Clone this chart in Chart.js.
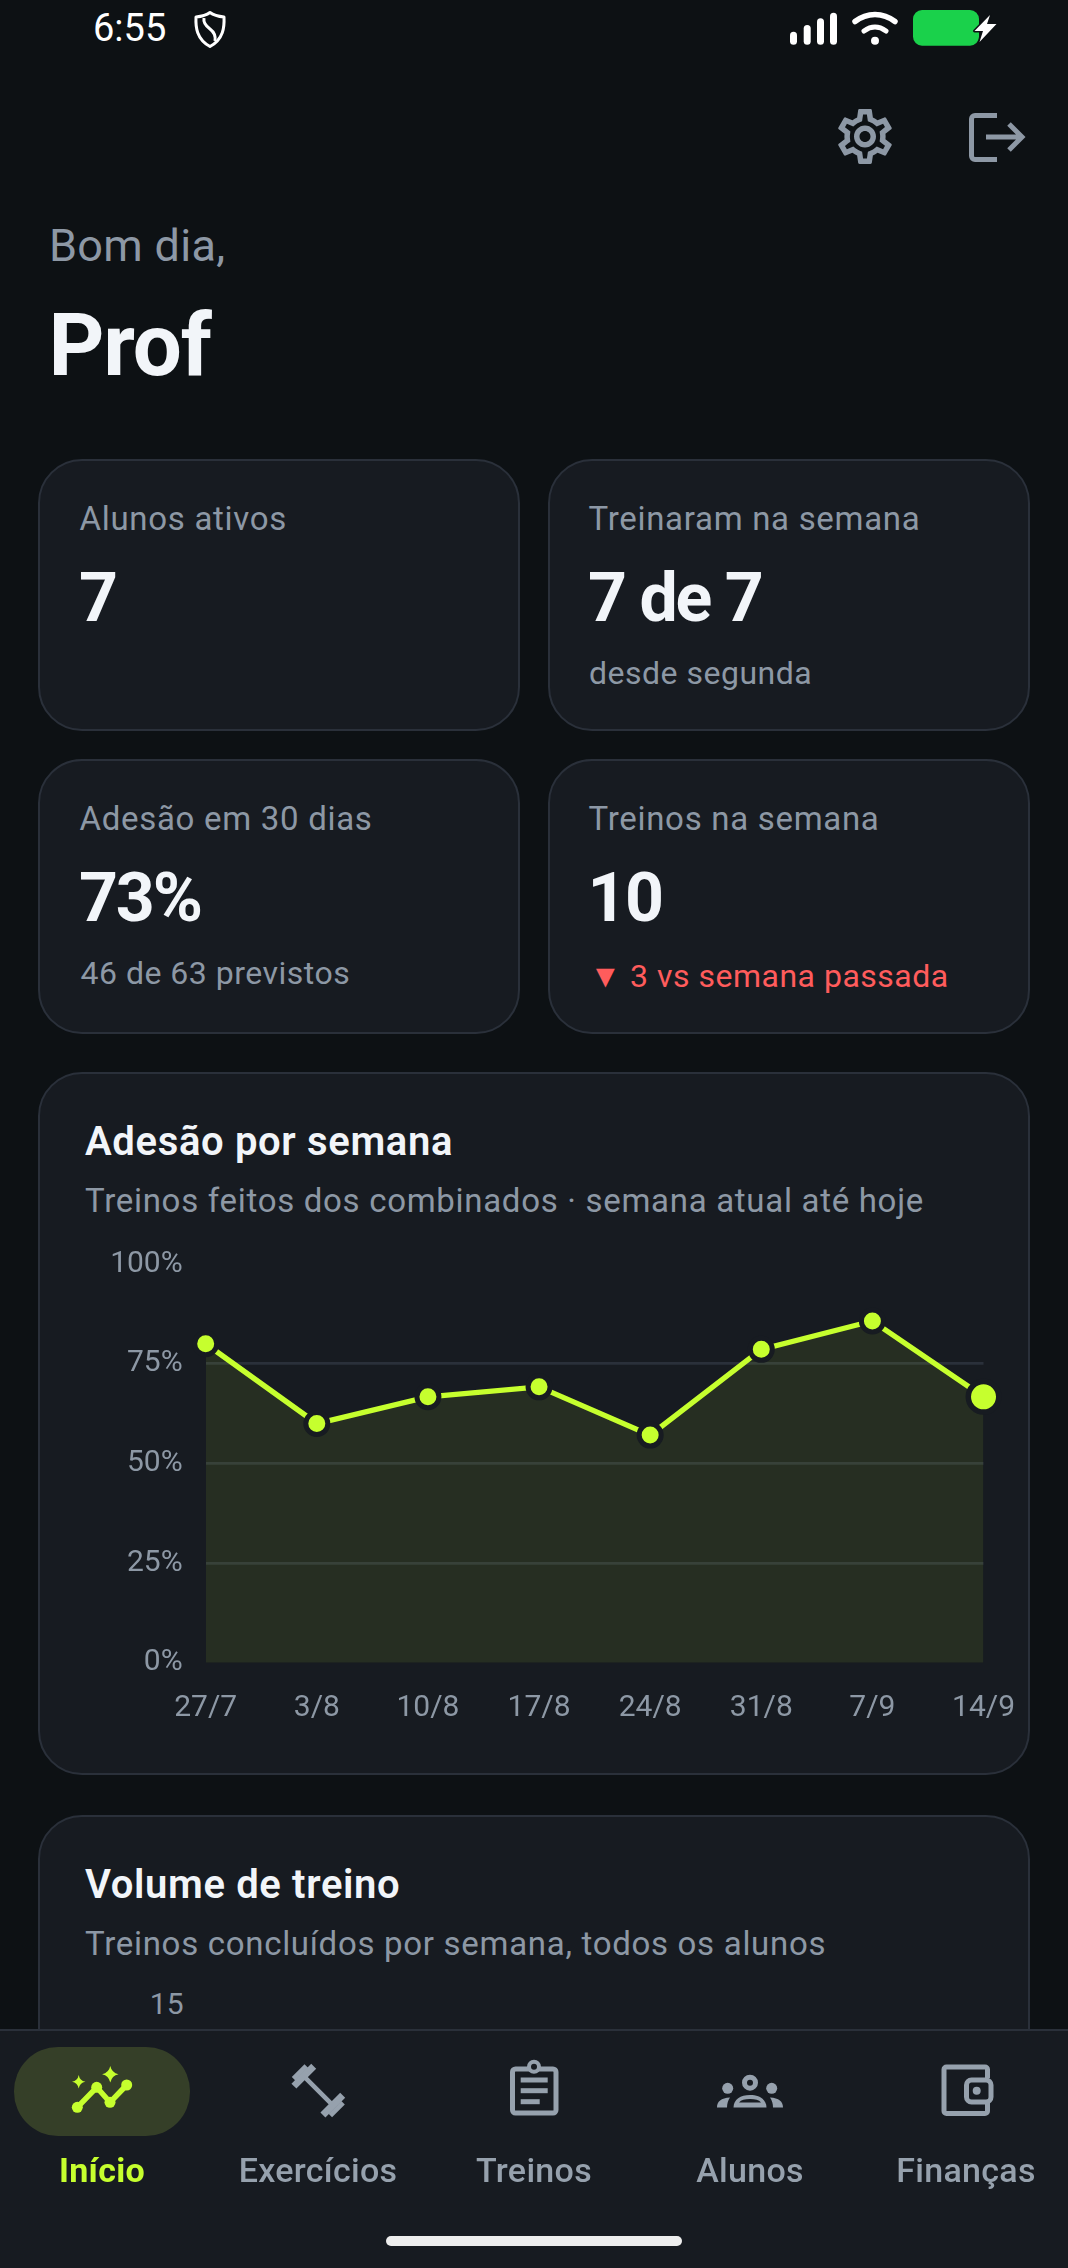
<!DOCTYPE html>
<html lang="pt-BR"><head><meta charset="utf-8">
<script src="https://cdn.jsdelivr.net/npm/chart.js@4"></script>
<style>
html,body{margin:0;padding:0;background:#0d1114;width:1068px;height:2268px;overflow:hidden;font-family:Roboto,sans-serif}
#page{position:relative;width:1068px;height:2268px;overflow:hidden}
.card{position:absolute;box-sizing:border-box;background:#171b21;border:2.5px solid #2a303a;border-radius:44px}
.t{position:absolute;white-space:nowrap;line-height:1;z-index:3}
#nav{position:absolute;left:0;top:2029px;width:1068px;height:239px;box-sizing:border-box;background:#171b21;border-top:2.5px solid #2a303a;z-index:5}
#pill{position:absolute;left:14px;top:2047px;width:176px;height:89px;border-radius:44px;background:#353f28;z-index:6}
#home{position:absolute;left:386px;top:2236px;width:296px;height:10px;border-radius:5px;background:#eeeeee;z-index:6}
#icons{position:absolute;left:0;top:0;z-index:7}
#wrap{position:absolute;left:40px;top:1223px;width:995px;height:507px;z-index:2}
#wrap canvas{position:absolute;left:0;top:0}
</style></head><body>
<div id="page">
<div class="card" style="left:38px;top:459px;width:481.500px;height:272px"></div>
<div class="card" style="left:548px;top:459px;width:481.500px;height:272px"></div>
<div class="card" style="left:38px;top:759px;width:481.500px;height:275px"></div>
<div class="card" style="left:548px;top:759px;width:481.500px;height:275px"></div>
<div class="card" style="left:38px;top:1072px;width:991.500px;height:703px"></div>
<div class="card" style="left:38px;top:1815px;width:991.500px;height:500px"></div>
<div id="wrap"><canvas id="c" width="995" height="507"></canvas></div>
<div id="nav"></div><div id="pill"></div><div id="home"></div>
<svg id="icons" width="1068" height="2268" viewBox="0 0 1068 2268" fill="none">
 <path d="M210 12.500c4 3 9 4 14 4.500 .5 10-.5 22-14 29.500-13.500-7.500-14.500-19.500-14-29.500 5-.5 10-1.500 14-4.500z" stroke="#fff" stroke-width="3" stroke-linejoin="round"/>
 <path d="M204 18c-1 5 2 8 6 11 4 3 6 6 5 12" stroke="#fff" stroke-width="3"/>
 <g fill="#fff"><rect x="790" y="31.700" width="7" height="13" rx="3.500"/><rect x="803.700" y="25" width="7" height="19.700" rx="3.500"/><rect x="817" y="18.300" width="7" height="26.400" rx="3.500"/><rect x="830" y="12.700" width="7" height="32" rx="3.500"/></g>
 <g stroke="#fff" fill="none" stroke-linecap="round"><path d="M855 21.500c12-9.500 28-9.500 40 0" stroke-width="5.500"/><path d="M864 31c7-5 15-5 22 0" stroke-width="5"/></g>
 <circle cx="875" cy="40.700" r="4" fill="#fff"/>
 <rect x="913" y="10" width="66" height="35.700" rx="9" fill="#1ad14b"/>
 <path d="M990 15 974.500 31h8.500l-3.500 11 17-18h-9.500z" fill="#fff" stroke="#0d1114" stroke-width="3" paint-order="stroke" stroke-linejoin="round"/>
 <path transform="translate(832,103.500) scale(2.750)" fill="#8d98a5" d="M19.43 12.980c.04-.32.07-.64.07-.98 0-.34-.03-.66-.07-.98l2.110-1.650c.19-.15.24-.42.12-.64l-2-3.460c-.09-.16-.26-.25-.44-.25-.06 0-.12.01-.17.03l-2.490 1c-.52-.4-1.080-.73-1.690-.98l-.38-2.650C14.460 2.180 14.250 2 14 2h-4c-.25 0-.46.18-.49.42l-.38 2.650c-.61.25-1.170.59-1.690.98l-2.490-1c-.06-.02-.12-.03-.18-.03-.17 0-.34.09-.43.25l-2 3.460c-.13.22-.07.49.12.64l2.110 1.650c-.04.32-.07.65-.07.98 0 .33.03.66.07.98l-2.110 1.650c-.19.15-.24.42-.12.64l2 3.460c.09.16.26.25.44.25.06 0 .12-.01.17-.03l2.490-1c.52.4 1.080.73 1.690.98l.38 2.650c.03.24.24.42.49.42h4c.25 0 .46-.18.49-.42l.38-2.650c.61-.25 1.170-.59 1.690-.98l2.490 1c.06.02.12.03.18.03.17 0 .34-.09.43-.25l2-3.460c.12-.22.07-.49-.12-.64l-2.110-1.650zm-1.980-1.710c.04.31.05.52.05.73 0 .21-.02.43-.05.73l-.14 1.130.89.7 1.080.84-.7 1.210-1.270-.51-1.040-.42-.9.68c-.43.32-.84.56-1.250.73l-1.060.43-.16 1.130-.2 1.350h-1.400l-.19-1.350-.16-1.130-1.060-.43c-.43-.18-.83-.41-1.230-.71l-.91-.7-1.060.43-1.270.51-.7-1.210 1.080-.84.89-.7-.14-1.130c-.03-.31-.05-.54-.05-.74s.02-.43.05-.73l.14-1.130-.89-.7-1.080-.84.7-1.210 1.270.51 1.040.42.9-.68c.43-.32.84-.56 1.250-.73l1.060-.43.16-1.130.2-1.350h1.390l.19 1.350.16 1.130 1.060.43c.43.18.83.41 1.230.71l.91.7 1.060-.43 1.270-.51.7 1.210-1.070.85-.89.7.14 1.130zM12 8c-2.210 0-4 1.790-4 4s1.790 4 4 4 4-1.790 4-4-1.790-4-4-4zm0 6c-1.100 0-2-.9-2-2s.9-2 2-2 2 .9 2 2-.9 2-2 2z"/>
 <path d="M997 115.500h-22a3.500 3.500 0 0 0-3.500 3.500v37a3.500 3.500 0 0 0 3.500 3.500h22" stroke="#8d98a5" stroke-width="5"/>
 <path d="M986 137h34M1009 124l13 13-13 13" stroke="#8d98a5" stroke-width="5"/>
 <g stroke="#c6ff2e" stroke-width="5.500" stroke-linecap="round" stroke-linejoin="round"><path d="M77.300 2107.300 96.700 2087.300 110 2102.300 126.700 2085"/></g>
 <g fill="#c6ff2e"><circle cx="77.300" cy="2107.300" r="5.500"/><circle cx="96.700" cy="2087.300" r="5.500"/><circle cx="110" cy="2102.300" r="5.500"/><circle cx="126.700" cy="2085" r="5.500"/>
  <path d="M110.300 2066q1.500 6.800 8.200 8.300-6.700 1.500-8.200 8.300-1.500-6.800-8.200-8.300 6.700-1.500 8.200-8.300z"/>
  <path d="M78.700 2075q1 5.700 6.700 6.700-5.700 1-6.700 6.700-1-5.700-6.700-6.700 5.700-1 6.700-6.700z"/></g>
 <g transform="translate(318.300,2090.700) rotate(45)" fill="#96a1ad">
  <rect x="-20" y="-2.300" width="40" height="4.600"/>
  <rect x="-24" y="-14" width="7" height="28"/><rect x="17" y="-14" width="7" height="28"/>
  <rect x="-28.500" y="-9" width="5" height="18"/><rect x="23.500" y="-9" width="5" height="18"/>
 </g>
 <rect x="512.500" y="2069" width="43.500" height="44" rx="3" stroke="#96a1ad" stroke-width="5"/>
 <circle cx="534" cy="2066.700" r="5" fill="#171b21" stroke="#96a1ad" stroke-width="4"/>
 <g fill="#96a1ad"><rect x="520.700" y="2077.500" width="27" height="5"/><rect x="520.700" y="2088.200" width="27" height="5"/><rect x="520.700" y="2099.200" width="19" height="5"/></g>
 <circle cx="750" cy="2082.700" r="5.500" stroke="#96a1ad" stroke-width="5"/>
 <g fill="#96a1ad"><circle cx="727.700" cy="2088.300" r="5.500"/><circle cx="771.700" cy="2088.300" r="5.500"/>
 <path d="M733.500 2107.500c0-8 7-12.500 16.500-12.500s16.500 4.500 16.500 12.500z"/>
 <path d="M717 2107.500c0-6 4-9.500 13-10-2 3-3 6-3 10zM783 2107.500c0-6-4-9.500-13-10 2 3 3 6 3 10z"/></g>
 <path d="M739 2102.500c2-2.600 6-3.500 11-3.500s9 .9 11 3.500z" fill="#171b21"/>
 <path d="M987.500 2078v-8.500a2.500 2.500 0 0 0-2.500-2.500h-38.500a2.500 2.500 0 0 0-2.500 2.500v41.500a2.500 2.500 0 0 0 2.500 2.500H985a2.500 2.500 0 0 0 2.500-2.500v-8" stroke="#96a1ad" stroke-width="5"/>
 <rect x="966.500" y="2080" width="24.500" height="22" rx="5" fill="#171b21" stroke="#96a1ad" stroke-width="5"/>
 <circle cx="976.700" cy="2090.700" r="4" fill="#96a1ad"/>
</svg>
</div>
<script>
const categories = ["27/7","3/8","10/8","17/8","24/8","31/8","7/9","14/9"];
const adesao = [80, 60, 66.7, 69.2, 57.1, 78.6, 85.7, 66.7];
const yTicks = [0, 25, 50, 75, 100];
const volumeTicks = ["15"];

const WHITE = "#f2f5f9", GRAY = "#8d98a5", LIME = "#c6ff2e", RED = "#ff5c5c";
const texts = [
 ["6:55", 93, 41, 38, 400, "#ffffff", 0],
 ["Bom dia,", 49, 261, 45, 400, GRAY, .3],
 ["Prof", 48.5, 375, 87, 700, WHITE, -1.2],
 ["Alunos ativos", 79.5, 530, 33, 400, GRAY, .7],
 ["7", 79, 621.5, 68, 700, WHITE, -2],
 ["Treinaram na semana", 588.5, 530, 33, 400, GRAY, .7],
 ["7 de 7", 588, 621.5, 68, 700, WHITE, -2.2],
 ["desde segunda", 589, 684, 32, 400, GRAY, .5],
 ["Adesão em 30 dias", 79.5, 829.5, 33, 400, GRAY, .7],
 ["73%", 79, 921, 68, 700, WHITE, -2.2],
 ["46 de 63 previstos", 80.5, 983.7, 32, 400, GRAY, .5],
 ["Treinos na semana", 588.5, 829.5, 33, 400, GRAY, .7],
 ["10", 587.5, 921, 68, 700, WHITE, -1.5],
 ["▼ 3 vs semana passada", 589.5, 986.5, 32, 400, RED, .5],
 ["Adesão por semana", 85, 1155.5, 40, 600, WHITE, .65],
 ["Treinos feitos dos combinados · semana atual até hoje", 85, 1211.5, 33, 400, GRAY, .7],
 ["Volume de treino", 85, 1898.5, 40, 600, WHITE, .65],
 ["Treinos concluídos por semana, todos os alunos", 85, 1954.5, 33, 400, GRAY, .7],
];
const page = document.getElementById("page");
function put(s, x, base, fs, w, col, ls, anchor, z){
  const d = document.createElement("div");
  d.className = "t"; d.textContent = s;
  d.style.cssText += `top:${base-0.841*fs}px;font-size:${fs}px;font-weight:${w};color:${col};letter-spacing:${ls}px;`;
  if(z) d.style.zIndex = z;
  if(anchor === "c"){ d.style.left = (x-500)+"px"; d.style.width="1000px"; d.style.textAlign="center"; }
  else if(anchor === "r"){ d.style.left = (x-200)+"px"; d.style.width="200px"; d.style.textAlign="right"; }
  else d.style.left = x+"px";
  page.appendChild(d);
}
texts.forEach(t => put(...t));
put(volumeTicks[0], 183.5, 2014, 30, 400, GRAY, 0, "r");
[["Início",102,LIME,700],["Exercícios",318,"#96a1ad",500],["Treinos",534,"#96a1ad",500],["Alunos",750,"#96a1ad",500],["Finanças",966,"#96a1ad",500]]
 .forEach(n => put(n[0], n[1], 2181.7, 34, n[3], n[2], .3, "c", 8));

const CARD = "#171b21";
new Chart(document.getElementById("c"), {
  type: "line",
  data: { labels: categories, datasets: [{
    data: adesao,
    borderColor: LIME, borderWidth: 5.3, tension: 0,
    fill: "origin", backgroundColor: "rgba(198,255,46,0.085)",
    clip: false,
    pointBackgroundColor: LIME, pointBorderColor: CARD,
    pointRadius: ctx => ctx.dataIndex === adesao.length-1 ? 15.25 : 11,
    pointBorderWidth: ctx => ctx.dataIndex === adesao.length-1 ? 5.5 : 5
  }]},
  options: {
    responsive: false, animation: false, devicePixelRatio: 1,
    layout: { autoPadding: false, padding: 0 },
    plugins: { legend: {display:false}, tooltip: {enabled:false} },
    scales: {
      x: { offset:false, grid:{display:false}, border:{display:false},
           afterFit: s => { s.height = 67.2; },
           ticks:{ color:GRAY, padding:20, maxRotation:0, autoSkip:false, font:{family:"Roboto",size:30} } },
      y: { min:0, max:100, grid:{ drawTicks:false, lineWidth:2.7, color: c => (c.tick.value===0||c.tick.value===100) ? "rgba(0,0,0,0)" : "#2a303a" },
           border:{display:false},
           afterFit: s => { s.width = 165.7; },
           afterBuildTicks: s => { s.ticks = yTicks.map(v => ({value:v})); },
           ticks:{ color:GRAY, padding:23, callback: v => v+"%", font:{family:"Roboto",size:30} } }
    }
  }
});
</script>
</body></html>
